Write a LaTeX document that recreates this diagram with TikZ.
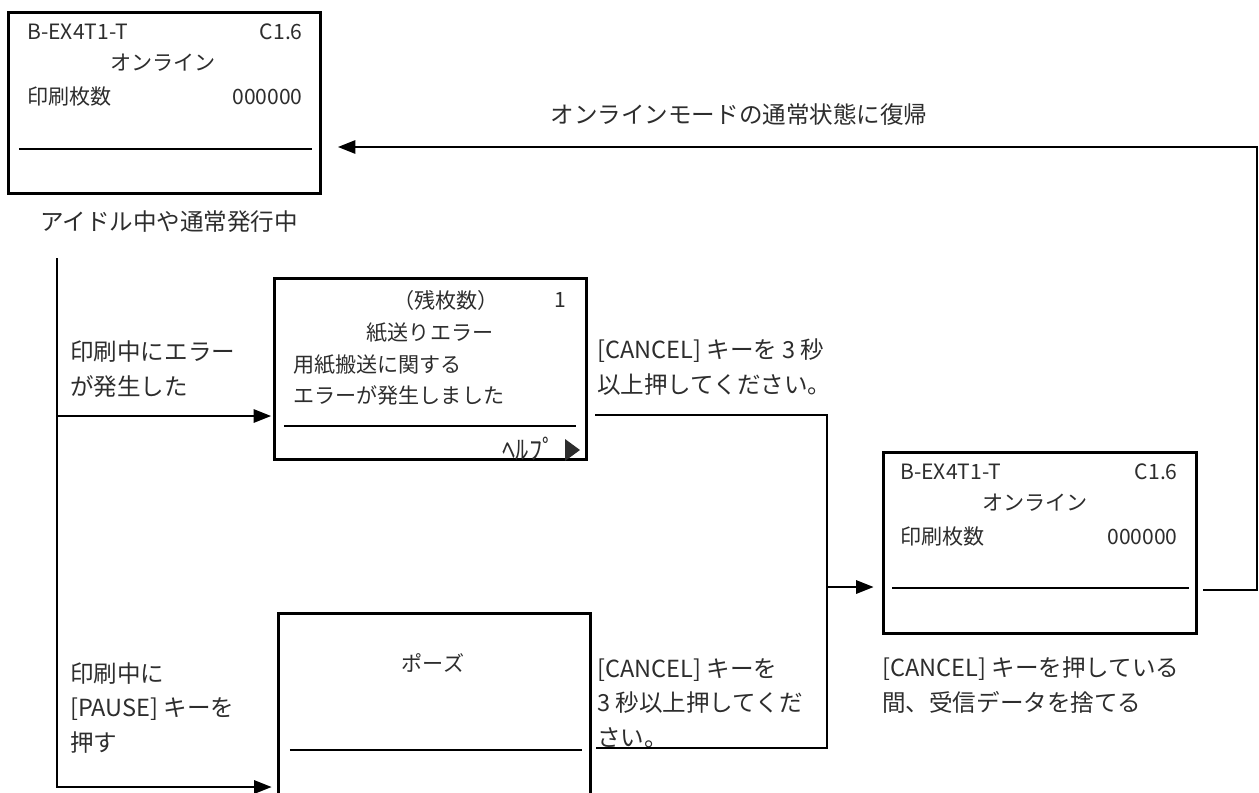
\documentclass[tikz,border=0pt]{standalone}
\usepackage{fontspec}
\setmainfont{Noto Sans CJK JP}
\usetikzlibrary{positioning, arrows.meta, calc}
\definecolor{inkgray}{RGB}{45, 45, 45}

\begin{document}
\begin{tikzpicture}[x=0.02cm, y=-0.02cm, >={Triangle[length=10pt, width=7.5pt]},
    screen/.style={draw, line width=1.5pt, minimum width=6.25cm, minimum height=3.62cm, inner sep=0pt},
    divider/.style={line width=1.4pt},
    wire/.style={line width=1.4pt},
    lcd/.style={font=\fontsize{12}{14}\selectfont, text=inkgray, inner sep=0pt},
    note/.style={font=\fontsize{13.4}{19.6}\selectfont, text=inkgray, inner sep=0pt, align=left}]
  \clip (0,0) rectangle (1259,792);

  % screens
  \node[screen] (idle)  at (164.5, 103) {};
  \node[screen] (err)   at (430.5, 369) {};
  \node[screen] (pause) at (434.5, 704) {};
  \node[screen] (flush) at (1040, 543)  {};

  \draw[divider] ($(idle.north west)+(12,138)$)  -- ($(idle.north east)+(-10,138)$);
  \draw[divider] ($(err.north west)+(11,149)$)   -- ($(err.north east)+(-12,149)$);
  \draw[divider] ($(pause.north west)+(13,138)$) -- ($(pause.north east)+(-10,138)$);
  \draw[divider] ($(flush.north west)+(10,137)$) -- ($(flush.north east)+(-9,137)$);

  % idle screen
  \node[lcd, anchor=west] (idlemodel) at (27, 32)  {B-EX4T1-T};
  \node[lcd, anchor=east] (idlever)   at (303, 32) {C1.6};
  \node[lcd]              (idlemode)  at (163, 63) {オンライン};
  \node[lcd, anchor=west] (idlecnt)   at (27, 97)  {印刷枚数};
  \node[lcd, anchor=east] (idlenum)   at (303, 97) {000000};
  \node[note]             (idlecap)   at (169, 222) {アイドル中や通常発行中};

  % error screen
  \node[lcd]              (errrest)  at (446, 300) {（残枚数）};
  \node[lcd, anchor=east] (errnum)   at (567, 300) {1};
  \node[lcd]              (errtitle) at (430, 333) {紙送りエラー};
  \node[lcd, anchor=west] (errmsga)  at (293, 365) {用紙搬送に関する};
  \node[lcd, anchor=west] (errmsgb)  at (293, 395) {エラーが発生しました};
  \node[lcd, font=\fontsize{15}{16}\selectfont] (errhelp) at (529, 449) {ﾍﾙﾌﾟ};
  \fill[inkgray] (565,439) -- (580,450) -- (565,461) -- cycle;

  % pause screen
  \node[lcd] (pausetitle) at (433, 663) {ポーズ};

  % online screen after cancel
  \node[lcd, anchor=west] (flushmodel) at (900, 472)  {B-EX4T1-T};
  \node[lcd, anchor=east] (flushver)   at (1178, 472) {C1.6};
  \node[lcd]              (flushmode)  at (1035, 503) {オンライン};
  \node[lcd, anchor=west] (flushcnt)   at (900, 537)  {印刷枚数};
  \node[lcd, anchor=east] (flushnum)   at (1178, 537) {000000};
  \node[note, anchor=west] (flushcap)  at (882, 685)
        {[CANCEL] キーを押している\\間、受信データを捨てる};

  % labels
  \node[note] (backlbl) at (739, 115) {オンラインモードの通常状態に復帰};
  \node[note, anchor=west] (errlbl)   at (70, 369)  {印刷中にエラー\\が発生した};
  \node[note, anchor=west] (pauselbl) at (70, 708)  {印刷中に\\{[PAUSE]} キーを\\押す};
  \node[note, anchor=west] (cancela)  at (597, 367) {[CANCEL] キーを 3 秒\\以上押してください。};
  \node[note, anchor=west] (cancelb)  at (597, 703) {[CANCEL] キーを\\3 秒以上押してくだ\\さい。};

  % connectors
  \coordinate (trunktop) at (57, 258);
  \coordinate (fork)     at (57, 416);
  \coordinate (trunkend) at (57, 787);
  \coordinate (cancelin) at (595, 415);
  \coordinate (cancelpb) at (596, 748);
  \coordinate (join)     at (827, 587);
  \coordinate (retout)   at (1203, 590);
  \coordinate (retup)    at (1257, 147);

  \draw[wire, ->, shorten >=3pt] (trunktop) -- (trunkend) -- (trunkend -| pause.west);
  \draw[wire, ->, shorten >=1pt] (fork) -- (fork -| err.west);
  \draw[wire] (cancelin) -| (cancelpb -| join) -- (cancelpb);
  \draw[wire, ->, shorten >=5pt] (join) -- (join -| flush.west);
  \draw[wire, ->, shorten >=9pt] (retout) -| (retup) -- (retup -| idle.east);
\end{tikzpicture}
\end{document}
